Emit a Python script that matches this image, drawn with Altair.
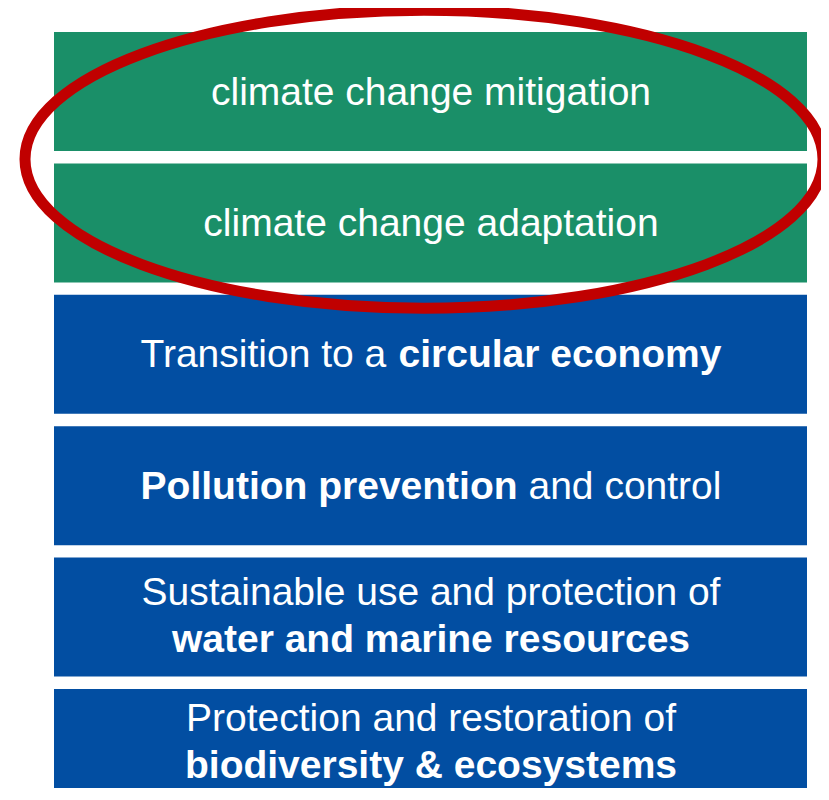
import altair as alt
import pandas as pd

# ---- content ----
objectives = [
    "climate change mitigation",
    "climate change adaptation",
    "circular economy",
    "pollution prevention and control",
    "water and marine resources",
    "biodiversity and ecosystems",
]
groups = ["climate", "climate", "environment", "environment", "environment", "environment"]
# each box: list of lines, each line: list of (text, weight)
box_lines = [
    [[("climate change mitigation", "normal")]],
    [[("climate change adaptation", "normal")]],
    [[("Transition to a", "normal"), ("circular economy", "bold")]],
    [[("Pollution prevention", "bold"), ("and control", "normal")]],
    [[("Sustainable use and protection of", "normal")],
     [("water and marine resources", "bold")]],
    [[("Protection and restoration of", "normal")],
     [("biodiversity & ecosystems", "bold")]],
]
highlighted = ["climate change mitigation", "climate change adaptation"]

# ---- style / layout ----
W, H = 813, 780
BOX_LEFT, BOX_RIGHT = 46, 799
TOP0, STEP, BOX_H = 24, 131.4, 119
FONT = "Liberation Sans"
FS = 39
LINE_GAP = 47
DESCENT = 9
GREEN, BLUE, RED = "#1A8F68", "#024EA2", "#C00000"

REG = {" ": 278, "a": 556, "b": 556, "c": 500, "d": 556, "e": 556, "f": 278, "g": 556,
       "h": 556, "i": 222, "l": 222, "m": 833, "n": 556, "o": 556, "p": 556, "r": 333,
       "s": 500, "t": 278, "u": 556, "v": 500, "w": 722, "y": 500, "P": 667, "S": 667,
       "T": 611, "&": 667}
BOLD = {" ": 278, "a": 556, "b": 611, "c": 556, "d": 611, "e": 556, "f": 333, "g": 611,
        "h": 611, "i": 278, "l": 278, "m": 889, "n": 611, "o": 611, "p": 611, "r": 389,
        "s": 556, "t": 333, "u": 611, "v": 556, "w": 778, "y": 556, "P": 667, "S": 667,
        "T": 611, "&": 722}


def text_width(s, weight):
    table = BOLD if weight == "bold" else REG
    return sum(table.get(ch, 556) for ch in s) * FS / 1000.0


cx = (BOX_LEFT + BOX_RIGHT) / 2 + 0.5

box_rows = []
text_rows = []
for i, (name, grp) in enumerate(zip(objectives, groups)):
    top = TOP0 + i * STEP
    box_rows.append({"objective": name, "group": grp, "x0": BOX_LEFT, "x1": BOX_RIGHT,
                     "y0": top, "y1": top + BOX_H})
    center = top + BOX_H / 2
    lines = box_lines[i]
    if len(lines) == 1:
        baselines = [center + 13]
    else:
        baselines = [center - 12, center - 12 + LINE_GAP]
    # keep descenders inside the drawing
    shift = max(0.0, baselines[-1] + DESCENT - (H - 1))
    baselines = [b - shift for b in baselines]
    for line, base in zip(lines, baselines):
        if len(line) == 1:
            txt, wt = line[0]
            text_rows.append({"text": txt, "weight": wt, "align": "center", "x": cx, "y": base})
        else:
            total = sum(text_width(t, w) for t, w in line) + text_width(" ", "normal") * (len(line) - 1)
            start = cx - total / 2
            for t, w in line:
                text_rows.append({"text": t, "weight": w, "align": "left", "x": start, "y": base})
                start += text_width(t, w) + text_width(" ", "normal")

boxes = pd.DataFrame(box_rows)
texts = pd.DataFrame(text_rows)

# ellipse around the highlighted (climate) boxes
hb = boxes[boxes["objective"].isin(highlighted)]
ell_cx = cx - 7
ell_cy = (hb["y0"].min() + hb["y1"].max()) / 2 + 2
ell_rx, ell_ry = 399, 149
ellipse = pd.DataFrame([{"x": ell_cx, "y": ell_cy}])
ell_path = f"M-1,0A1,{ell_ry/ell_rx:.4f} 0 1,1 1,0A1,{ell_ry/ell_rx:.4f} 0 1,1 -1,0Z"

xs = alt.Scale(domain=[0, W], range=[0, W])
ys = alt.Scale(domain=[0, H], reverse=True)

rects = alt.Chart(boxes).mark_rect(clip=True).encode(
    x=alt.X("x0:Q", scale=xs, axis=None),
    x2="x1:Q",
    y=alt.Y("y0:Q", scale=ys, axis=None),
    y2="y1:Q",
    color=alt.Color("group:N", scale=alt.Scale(domain=["climate", "environment"],
                                               range=[GREEN, BLUE]), legend=None),
)


def text_layer(weight, align):
    return alt.Chart(texts).transform_filter(
        (alt.datum.weight == weight) & (alt.datum.align == align)
    ).mark_text(
        font=FONT, fontSize=FS, fontWeight=weight, align=align,
        baseline="alphabetic", color="white",
    ).encode(
        x=alt.X("x:Q", scale=xs, axis=None),
        y=alt.Y("y:Q", scale=ys, axis=None),
        text="text:N",
    )


ell = alt.Chart(ellipse).mark_point(
    shape=ell_path, size=(2 * ell_rx) ** 2, filled=False,
    stroke=RED, strokeWidth=11, opacity=1,
).encode(
    x=alt.X("x:Q", scale=xs, axis=None),
    y=alt.Y("y:Q", scale=ys, axis=None),
)

chart = alt.layer(
    rects,
    text_layer("normal", "center"),
    text_layer("bold", "center"),
    text_layer("normal", "left"),
    text_layer("bold", "left"),
    ell,
).properties(
    width=W, height=H, padding=0,
    autosize=alt.AutoSizeParams(type="none"),
    background="white",
).configure_view(strokeWidth=0)

chart.save("out.html", embed_options={"renderer": "svg", "actions": False})
